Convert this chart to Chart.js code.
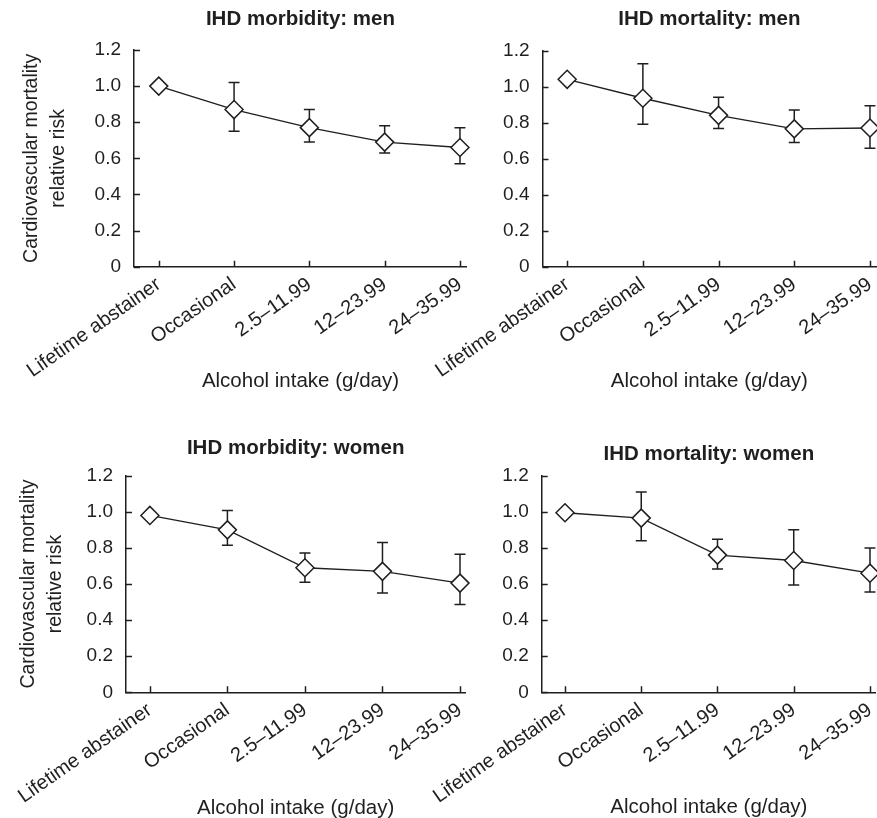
<!DOCTYPE html>
<html lang="en">
<head>
<meta charset="UTF-8" />
<title>IHD and alcohol intake</title>
<script src="https://cdn.jsdelivr.net/npm/chart.js"></script>
<style>
  html, body { margin: 0; padding: 0; background: #fff; }
  body { width: 877px; height: 818px; overflow: hidden; position: relative; }
  canvas { position: absolute; }
</style>
</head>
<body>
<canvas id="c1" width="480" height="400" style="left:0px;top:0px"></canvas>
<canvas id="c2" width="510" height="400" style="left:380px;top:0px"></canvas>
<canvas id="c3" width="480" height="409" style="left:0px;top:409px"></canvas>
<canvas id="c4" width="510" height="409" style="left:380px;top:409px"></canvas>

<script>
// categories and tick labels
const categories = ['Lifetime abstainer', 'Occasional', '2.5\u201311.99', '12\u201323.99', '24\u201335.99'];
const yTicks = [0, 0.2, 0.4, 0.6, 0.8, 1.0, 1.2];
const yTickLabels = ['0', '0.2', '0.4', '0.6', '0.8', '1.0', '1.2'];

// relative risk + confidence limits
const menMorbidity   = [1.00, 0.87, 0.77, 0.69, 0.66];
const menMorbLo      = [null, 0.75, 0.69, 0.63, 0.57];
const menMorbHi      = [null, 1.02, 0.87, 0.78, 0.77];

const menMortality   = [1.04, 0.935, 0.84, 0.765, 0.77];
const menMortLo      = [null, 0.79, 0.767, 0.69, 0.657];
const menMortHi      = [null, 1.126, 0.94, 0.87, 0.894];

const womenMorbidity = [0.98, 0.90, 0.69, 0.67, 0.605];
const womenMorbLo    = [null, 0.815, 0.61, 0.55, 0.487];
const womenMorbHi    = [null, 1.007, 0.772, 0.83, 0.765];

const womenMortality = [0.995, 0.965, 0.76, 0.73, 0.66];
const womenMortLo    = [null, 0.84, 0.683, 0.595, 0.556];
const womenMortHi    = [null, 1.11, 0.848, 0.90, 0.80];

const INK = '#1f1f1f';
const FONT = "'Liberation Sans', Arial, Helvetica, sans-serif";

// error bars drawn under the line and markers
const errorBars = {
  id: 'errorBars',
  beforeDatasetsDraw(chart) {
    const { ctx, scales: { x, y } } = chart;
    const ds = chart.data.datasets[0];
    ctx.save();
    ctx.strokeStyle = INK;
    ctx.lineWidth = 1.5;
    ds.errLo.forEach((lo, i) => {
      if (lo == null) return;
      const px = x.getPixelForValue(i);
      const y1 = y.getPixelForValue(lo);
      const y2 = y.getPixelForValue(ds.errHi[i]);
      ctx.beginPath();
      ctx.moveTo(px, y1); ctx.lineTo(px, y2);
      ctx.moveTo(px - 5.5, y1); ctx.lineTo(px + 5.5, y1);
      ctx.moveTo(px - 5.5, y2); ctx.lineTo(px + 5.5, y2);
      ctx.stroke();
    });
    ctx.restore();
  }
};

// short tick marks pointing into the plot
const innerTicks = {
  id: 'innerTicks',
  afterDraw(chart) {
    const { ctx, scales: { x, y } } = chart;
    ctx.save();
    ctx.strokeStyle = INK;
    ctx.lineWidth = 1.5;
    ctx.beginPath();
    yTicks.forEach(v => {
      const py = Math.round(y.getPixelForValue(v)) + 0.5;
      ctx.moveTo(y.right, py); ctx.lineTo(y.right + 6, py);
    });
    categories.forEach((c, i) => {
      const px = Math.round(x.getPixelForValue(i)) + 0.5;
      ctx.moveTo(px, x.top); ctx.lineTo(px, x.top - 6);
    });
    ctx.stroke();
    ctx.restore();
  }
};

function makePanel(p) {
  const canvas = document.getElementById(p.id);
  const H = canvas.height;
  const top = p.chartTop - p.top;
  const bottom = p.chartBottom - p.top;
  const titleMid = p.titleMid - p.top;
  const tLine = 20.5 * 1.2;
  const tPadTop = titleMid - tLine / 2;
  const tPadBottom = top - tPadTop - tLine;
  const xTitleOff = (p.top + H) - p.xTitleMid;

  new Chart(canvas, {
    type: 'line',
    data: {
      datasets: [{
        data: p.values.map((v, i) => ({ x: i, y: v })),
        errLo: p.lo,
        errHi: p.hi,
        borderColor: INK,
        borderWidth: 1.4,
        pointStyle: 'rectRot',
        pointRadius: 9,
        pointBackgroundColor: '#fff',
        pointBorderColor: INK,
        pointBorderWidth: 1.5,
        tension: 0,
        clip: false
      }]
    },
    options: {
      responsive: false,
      animation: false,
      devicePixelRatio: 1,
      layout: { padding: { left: 0, right: p.padRight, top: 0, bottom: 0 } },
      plugins: {
        legend: { display: false },
        tooltip: { enabled: false },
        title: {
          display: true,
          text: p.title,
          fullSize: false,
          color: INK,
          font: { family: FONT, size: 20.5, weight: 'bold', lineHeight: 1.2 },
          padding: { top: tPadTop, bottom: tPadBottom }
        }
      },
      scales: {
        x: {
          type: 'linear',
          min: (p.axisX - p.firstTick) / p.step,
          max: (p.axisRight - p.firstTick) / p.step,
          grid: { display: false, drawTicks: false },
          border: { display: true, color: INK, width: 1.5 },
          afterBuildTicks: s => { s.ticks = categories.map((c, i) => ({ value: i })); },
          afterFit: s => { s.height = H - bottom; },
          ticks: {
            autoSkip: false, minRotation: 35, maxRotation: 35, padding: 6,
            color: INK, font: { family: FONT, size: 20 },
            callback: v => categories[v]
          },
          title: {
            display: true, text: 'Alcohol intake (g/day)', color: INK,
            font: { family: FONT, size: 20.5, lineHeight: 1 },
            padding: { top: 0, bottom: xTitleOff - 10.25 }
          }
        },
        y: {
          type: 'linear',
          min: 0,
          max: 1.2,
          grid: { display: false, drawTicks: false },
          border: { display: true, color: INK, width: 1.5 },
          afterBuildTicks: s => { s.ticks = yTicks.map(v => ({ value: v })); },
          afterFit: s => { s.width = p.axisX - p.left; },
          ticks: {
            padding: 13, color: INK, font: { family: FONT, size: 19 },
            callback: (v, i) => yTickLabels[i]
          },
          title: {
            display: p.yTitle,
            text: ['Cardiovascular mortality', 'relative risk'],
            color: INK,
            font: { family: FONT, size: 19.5, lineHeight: '27px' },
            padding: { top: p.yTitleX - p.left - 13.5, bottom: 0 }
          }
        }
      }
    },
    plugins: [errorBars, innerTicks]
  });
}

makePanel({ id: 'c1', left: 0, top: 0, title: 'IHD morbidity: men', titleMid: 19,
  values: menMorbidity, lo: menMorbLo, hi: menMorbHi,
  axisX: 134, firstTick: 159, step: 76, axisRight: 470, padRight: 10,
  chartTop: 50, chartBottom: 266.7, xTitleMid: 381, yTitle: true, yTitleX: 31.7 });

makePanel({ id: 'c2', left: 380, top: 0, title: 'IHD mortality: men', titleMid: 19,
  values: menMortality, lo: menMortLo, hi: menMortHi,
  axisX: 542.5, firstTick: 567.3, step: 76.1, axisRight: 878, padRight: 12,
  chartTop: 50.5, chartBottom: 266.7, xTitleMid: 381, yTitle: false, yTitleX: 400 });

makePanel({ id: 'c3', left: 0, top: 409, title: 'IHD morbidity: women', titleMid: 448,
  values: womenMorbidity, lo: womenMorbLo, hi: womenMorbHi,
  axisX: 126, firstTick: 150, step: 77.9, axisRight: 467, padRight: 13,
  chartTop: 475.7, chartBottom: 692.3, xTitleMid: 808, yTitle: true, yTitleX: 29 });

makePanel({ id: 'c4', left: 380, top: 409, title: 'IHD mortality: women', titleMid: 454,
  values: womenMortality, lo: womenMortLo, hi: womenMortHi,
  axisX: 541.7, firstTick: 565, step: 76.25, axisRight: 876, padRight: 14,
  chartTop: 475.7, chartBottom: 692.3, xTitleMid: 807, yTitle: false, yTitleX: 400 });
</script>
</body>
</html>
